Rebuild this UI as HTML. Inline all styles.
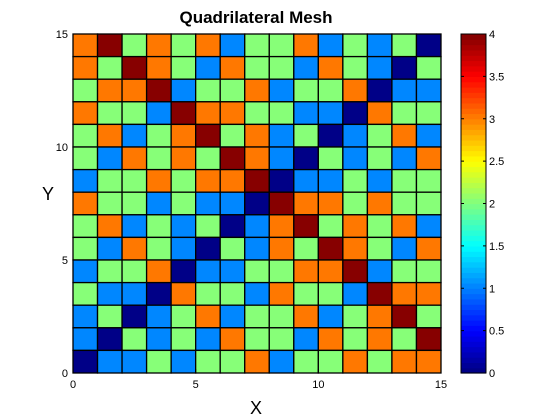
<!DOCTYPE html>
<html><head><meta charset="utf-8"><style>
body{margin:0;background:#fff;}
svg{display:block;font-family:"Liberation Sans",sans-serif;}
</style></head><body>
<svg id="chart" width="560" height="420">
<text x="256" y="23" text-anchor="middle" font-size="17" font-weight="bold">Quadrilateral Mesh</text>
<text x="256" y="414" text-anchor="middle" font-size="18">X</text>
<text x="48" y="200" text-anchor="middle" font-size="18">Y</text>
<g id="cells"></g>
<g id="axes"></g>
<g id="cbar"></g>
</svg>
<script>
// rows listed top (y=15) to bottom (y=0)
const rowValues = [
[3,4,2,3,2,3,1,2,2,3,1,2,1,2,0],
[3,2,4,3,2,1,3,2,2,1,3,2,1,0,2],
[2,3,3,4,1,2,2,3,1,2,2,3,0,1,1],
[3,2,2,1,4,3,3,2,2,1,1,0,3,2,2],
[2,3,1,2,3,4,2,3,1,2,0,1,2,3,1],
[2,1,3,2,3,2,4,3,1,0,2,1,2,1,3],
[1,2,2,3,2,3,3,4,0,1,1,2,1,2,2],
[3,2,2,1,2,1,1,0,4,3,3,2,3,2,2],
[2,3,1,2,1,2,0,1,3,4,2,3,2,3,1],
[2,1,3,2,1,0,2,1,3,2,4,3,2,1,3],
[1,2,2,3,0,1,1,2,2,3,3,4,1,2,2],
[2,1,1,0,3,2,2,1,3,2,2,1,4,3,3],
[1,2,0,1,2,3,1,2,2,3,1,2,3,4,2],
[1,0,2,1,2,1,3,2,2,1,3,2,3,2,4],
[0,1,1,2,1,2,2,3,1,2,2,3,2,3,3]
];
const xTicks = [0,5,10,15];
const yTicks = [0,5,10,15];
const cbarTicks = [0,0.5,1,1.5,2,2.5,3,3.5,4];
const cbarTickLabels = ["0","0.5","1","1.5","2","2.5","3","3.5","4"];

const NS="http://www.w3.org/2000/svg";
const X0=73,X1=441,Y0=373,Y1=34;
const sx=v=>X0+(X1-X0)*v/15;
const sy=v=>Y0-(Y0-Y1)*v/15;
const CB0=461,CB1=486;
const sc=v=>Y0-(Y0-Y1)*v/4;
function jet(t){ // t in 0..1
  const r=Math.min(Math.max(Math.min(4*t-1.5,-4*t+4.5),0),1);
  const g=Math.min(Math.max(Math.min(4*t-0.5,-4*t+3.5),0),1);
  const b=Math.min(Math.max(Math.min(4*t+0.5,-4*t+2.5),0),1);
  return `rgb(${Math.round(r*255)},${Math.round(g*255)},${Math.round(b*255)})`;
}
function jet64(v){ // MATLAB 64-colour jet, indexed
  const i=Math.min(63,Math.floor(v/4*64));
  return jet((i+0.5)/64);
}
function mk(tag,attrs,parent){const e=document.createElementNS(NS,tag);for(const k in attrs)e.setAttribute(k,attrs[k]);parent.appendChild(e);return e;}

const cells=document.getElementById('cells');
rowValues.forEach((row,ri)=>{
  const yv=14-ri;
  row.forEach((v,ci)=>{
    const r=mk('rect',{x:sx(ci),y:sy(yv+1),width:sx(ci+1)-sx(ci),height:sy(yv)-sy(yv+1),fill:jet64(v),stroke:'#000','stroke-width':1.3},cells);
    
    
  });
});

const axes=document.getElementById('axes');
mk('rect',{x:X0,y:Y1,width:X1-X0,height:Y0-Y1,fill:'none',stroke:'#000','stroke-width':1},axes);
xTicks.forEach(t=>{
  const x=sx(t);
  mk('line',{x1:x,y1:Y0,x2:x,y2:Y0-4,stroke:'#000'},axes);
  mk('line',{x1:x,y1:Y1,x2:x,y2:Y1+4,stroke:'#000'},axes);
  const tx=mk('text',{x:x,y:Y0+15,'text-anchor':'middle','font-size':11},axes);
  tx.textContent=t;
  
  
});
yTicks.forEach(t=>{
  const y=sy(t);
  mk('line',{x1:X0,y1:y,x2:X0+4,y2:y,stroke:'#000'},axes);
  mk('line',{x1:X1,y1:y,x2:X1-4,y2:y,stroke:'#000'},axes);
  const tx=mk('text',{x:X0-5,y:y+4,'text-anchor':'end','font-size':11},axes);
  tx.textContent=t;
  
  
});

const cb=document.getElementById('cbar');
for(let i=0;i<64;i++){
  const v0=i/16, v1=(i+1)/16;
  mk('rect',{x:CB0,y:sc(v1),width:CB1-CB0,height:sc(v0)-sc(v1)+0.6,fill:jet((i+0.5)/64)},cb);
}
mk('rect',{x:CB0,y:Y1,width:CB1-CB0,height:Y0-Y1,fill:'none',stroke:'#000'},cb);
cbarTicks.forEach((t,i)=>{
  const y=sc(t);
  mk('line',{x1:CB0,y1:y,x2:CB0+3,y2:y,stroke:'#000'},cb);
  mk('line',{x1:CB1,y1:y,x2:CB1-3,y2:y,stroke:'#000'},cb);
  const tx=mk('text',{x:CB1+3,y:y+4,'font-size':11},cb);
  tx.textContent=cbarTickLabels[i];
  
  
});
</script>
</body></html>
